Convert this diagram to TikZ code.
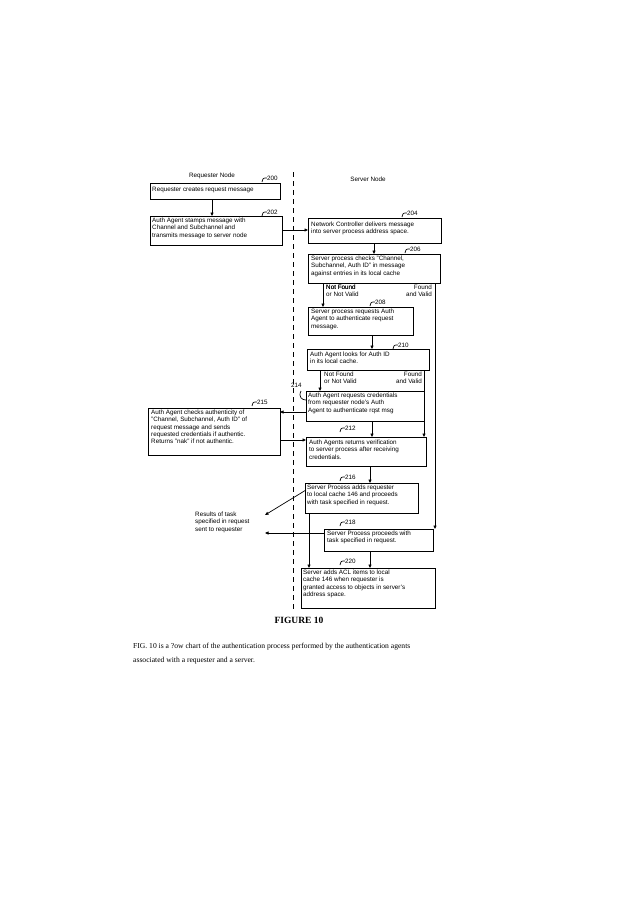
\documentclass[tikz,border=0pt]{standalone}
\usepackage{fontspec}
\setmainfont{Liberation Sans}
\newfontfamily\capfont{Liberation Serif}
\usetikzlibrary{arrows.meta}
\begin{document}
\begin{tikzpicture}[x=1pt,y=-1pt,
  bx/.style={draw,line width=1pt,inner sep=0pt},
  tx/.style={font=\fontsize{6.3}{7.2}\selectfont,align=left,anchor=north west,inner sep=0pt},
  ar/.style={-{Triangle[length=3.5pt,width=3pt]},line width=0.7pt},
  ln/.style={line width=0.7pt},
  lbl/.style={font=\fontsize{6.3}{7}\selectfont,inner sep=0pt,anchor=west}]
\useasboundingbox (0,0) rectangle (638,902);
\newcommand\refnum[3]{\draw[ln] (#1-5,#2+4) .. controls (#1-4,#2) .. (#1,#2); \node[lbl] at (#1,#2) {#3};}
\draw[line width=0.8pt,dash pattern=on 5pt off 4pt] (293,172) -- (293,612);
\node[font=\fontsize{6.3}{7}\selectfont] at (212,176) {Requester Node};
\node[font=\fontsize{6.3}{7}\selectfont] at (368,179) {Server Node};
% boxes
\draw[bx] (150,183) rectangle (280,199) coordinate (b200);
\node[tx] at (152,187) {Requester creates request message};
\refnum{267}{178}{200}
\draw[bx] (150,216) rectangle (282,245);
\node[tx] at (152,218) {Auth Agent stamps message with\\Channel and Subchannel and\\transmits message to server node};
\refnum{267}{212}{202}
\draw[bx] (308,218) rectangle (441,243);
\node[tx] at (311,222) {Network Controller delivers message\\into server process address space.};
\refnum{407}{213}{204}
\draw[bx] (308,254) rectangle (440,283);
\node[tx] at (311,256) {Server process checks "Channel,\\Subchannel, Auth ID" in message\\against entries in its local cache};
\refnum{410}{249}{206}
\draw[bx] (308,307) rectangle (413,335);
\node[tx] at (311,309) {Server process requests Auth\\Agent to authenticate request\\message.};
\refnum{375}{302}{208}
\draw[bx] (307,349) rectangle (429,370);
\node[tx] at (310,352) {Auth Agent looks for Auth ID\\in its local cache.};
\refnum{398}{345}{210}
\draw[bx] (306,391) rectangle (424,421);
\node[tx] at (308,393) {Auth Agent requests credentials\\from requester node's Auth\\Agent to authenticate rqst msg};
\draw[bx] (148,408) rectangle (280,455);
\node[tx] at (151,410) {Auth Agent checks authenticity of\\"Channel, Subchannel, Auth ID" of\\request message and sends\\requested credentials if authentic.\\Returns "nak" if not authentic.};
\refnum{257}{402}{215}
\draw[bx] (306,437) rectangle (426,466);
\node[tx] at (309,440) {Auth Agents returns verification\\to server process after receiving\\credentials.};
\refnum{345}{428}{212}
\draw[bx] (305,483) rectangle (418,513);
\node[tx] at (307,485) {Server Process adds requester\\to local cache 146 and proceeds\\with task specified in request.};
\refnum{345}{477}{216}
\draw[bx] (324,529) rectangle (433,551);
\node[tx] at (327,531) {Server Process proceeds with\\task specified in request.};
\refnum{345}{522}{218}
\draw[bx] (301,568) rectangle (435,608);
\node[tx] at (303,570) {Server adds ACL items to local\\cache 146 when requester is\\granted access to objects in server's\\address space.};
\refnum{345}{561}{220}
% 214 label
\node[lbl] at (291,385) {214};
\draw[ln] (301,391) .. controls (298,397) and (302,400) .. (306,400);
% arrows
\draw[ar] (212,199) -- (212,216);
\draw[ar] (282,230) -- (308,230);
\draw[ar] (374,243) -- (374,254);
\draw[ar] (323,283) -- (323,307);
\node[lbl,anchor=north west] at (326,285) {Not Found\\[-1pt]};
\node[font=\fontsize{6.3}{7.2}\selectfont,align=left,anchor=north west,inner sep=0pt] at (326,285) {Not Found\\or Not Valid};
\node[font=\fontsize{6.3}{7.2}\selectfont,align=right,anchor=north east,inner sep=0pt] at (432,285) {Found\\and Valid};
\draw[ar] (435,283) -- (435,529);
\draw[ar] (372,335) -- (372,349);
\draw[ar] (320,370) -- (320,391);
\node[font=\fontsize{6.3}{7.2}\selectfont,align=left,anchor=north west,inner sep=0pt] at (324,372) {Not Found\\or Not Valid};
\node[font=\fontsize{6.3}{7.2}\selectfont,align=right,anchor=north east,inner sep=0pt] at (422,372) {Found\\and Valid};
\draw[ar] (424,370) -- (424,437);
\draw[ar] (306,412) -- (280,412);
\draw[ar] (280,440) -- (306,440);
\draw[ar] (372,421) -- (372,437);
\draw[ar] (370,466) -- (370,483);
\draw[ar] (306,490) -- (265,515);
\node[font=\fontsize{6.3}{7.2}\selectfont,align=left,anchor=north west,inner sep=0pt] at (195,512) {Results of task\\specified in request\\sent to requester};
\draw[ar] (324,533) -- (265,533);
\draw[ar] (309,513) -- (309,568);
\draw[ar] (370,551) -- (370,568);
\node[font=\capfont\bfseries\fontsize{9.5}{10}\selectfont] at (299,620) {FIGURE 10};
\node[font=\capfont\fontsize{7.6}{13.5}\selectfont,align=left,anchor=north west,inner sep=0pt] at (133,643) {FIG. 10 is a ?ow chart of the authentication process performed by the authentication agents\\associated with a requester and a server.};
\end{tikzpicture}
\end{document}
